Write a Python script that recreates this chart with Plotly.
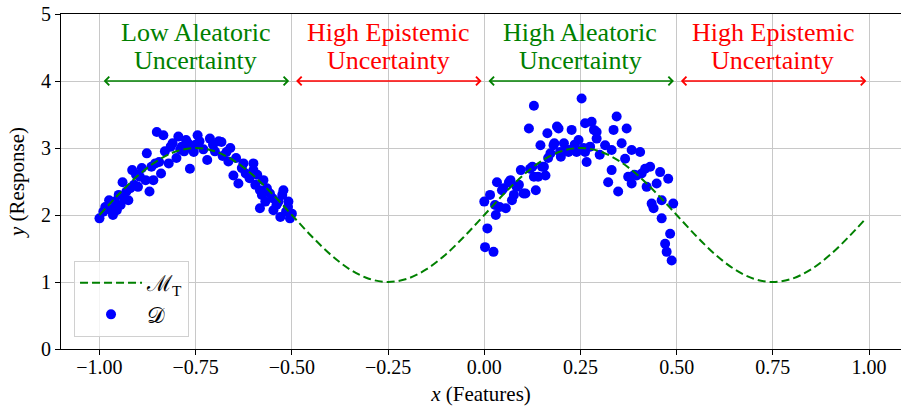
import plotly.graph_objects as go

# ---- data ----
curve_x = [-1.00, -0.95, -0.90, -0.85, -0.80, -0.75, -0.70, -0.65, -0.60, -0.55,
           -0.50, -0.45, -0.40, -0.35, -0.30, -0.25, -0.20, -0.15, -0.10, -0.05,
           0.00, 0.05, 0.10, 0.15, 0.20, 0.25, 0.30, 0.35, 0.40, 0.45,
           0.50, 0.55, 0.60, 0.65, 0.70, 0.75, 0.80, 0.85, 0.90, 0.95, 0.99]
curve_y = [2.000, 2.309, 2.588, 2.809, 2.951, 3.000, 2.951, 2.809, 2.588, 2.309,
           2.000, 1.691, 1.412, 1.191, 1.049, 1.000, 1.049, 1.191, 1.412, 1.691,
           2.000, 2.309, 2.588, 2.809, 2.951, 3.000, 2.951, 2.809, 2.588, 2.309,
           2.000, 1.691, 1.412, 1.191, 1.049, 1.000, 1.049, 1.191, 1.412, 1.691, 1.937]

left_x = [-1.00, -0.99, -0.985, -0.975, -0.97, -0.965, -0.96, -0.955, -0.95, -0.945,
          -0.94, -0.935, -0.93, -0.925, -0.92, -0.915, -0.91, -0.905, -0.90, -0.895,
          -0.89, -0.88, -0.877, -0.87, -0.865, -0.86, -0.855, -0.851, -0.845, -0.84,
          -0.834, -0.83, -0.82, -0.815, -0.81, -0.80, -0.795, -0.79, -0.786, -0.78,
          -0.775, -0.77, -0.765, -0.76, -0.755, -0.75, -0.745, -0.74, -0.73, -0.72,
          -0.713, -0.705, -0.70, -0.69, -0.683, -0.68, -0.67, -0.665, -0.66, -0.652,
          -0.645, -0.639, -0.63, -0.626, -0.62, -0.61, -0.60, -0.60, -0.595, -0.59,
          -0.583, -0.583, -0.578, -0.574, -0.569, -0.565, -0.557, -0.55, -0.548, -0.54,
          -0.535, -0.53, -0.525, -0.522, -0.515, -0.51, -0.509, -0.505, -0.50]
left_y = [1.95, 2.05, 2.12, 2.22, 2.08, 2.00, 2.20, 2.07, 2.30, 2.15,
          2.49, 2.25, 2.35, 2.22, 2.40, 2.67, 2.45, 2.60, 2.42, 2.57,
          2.70, 2.52, 2.92, 2.35, 2.72, 2.52, 2.77, 3.24, 2.79, 2.62,
          3.19, 2.95, 2.77, 3.02, 3.07, 2.85, 3.17, 2.98, 3.02, 2.95,
          3.12, 3.07, 2.69, 3.00, 2.94, 3.05, 3.19, 3.10, 2.98, 2.82,
          3.14, 3.05, 2.95, 3.10, 3.09, 2.88, 2.94, 2.80, 3.00, 2.59,
          2.85, 2.47, 2.70, 2.77, 2.62, 2.55, 2.77, 2.67, 2.45, 2.60,
          2.37, 2.10, 2.30, 2.52, 2.20, 2.40, 2.32, 2.25, 2.07, 2.15,
          2.20, 1.97, 2.30, 2.37, 2.05, 2.12, 2.20, 1.95, 2.02]

right_x = [0.000, 0.002, 0.008, 0.015, 0.024, 0.028, 0.030, 0.033, 0.040, 0.046,
           0.050, 0.056, 0.064, 0.068, 0.072, 0.077, 0.084, 0.090, 0.095, 0.102,
           0.107, 0.116, 0.119, 0.125, 0.129, 0.129, 0.134, 0.140, 0.146, 0.150,
           0.155, 0.159, 0.164, 0.166, 0.172, 0.180, 0.182, 0.189, 0.193, 0.197,
           0.199, 0.207, 0.212, 0.219, 0.223, 0.227, 0.235, 0.240, 0.245, 0.253,
           0.258, 0.262, 0.262, 0.266, 0.275, 0.279, 0.285, 0.292, 0.292, 0.300,
           0.314, 0.322, 0.331, 0.331, 0.336, 0.344, 0.348, 0.357, 0.366, 0.370,
           0.374, 0.383, 0.383, 0.390, 0.396, 0.405, 0.409, 0.418, 0.422, 0.431,
           0.435, 0.440, 0.448, 0.457, 0.461, 0.461, 0.470, 0.474, 0.478, 0.483,
           0.487, 0.491]
right_y = [2.20, 1.52, 1.80, 2.30, 1.45, 2.15, 2.00, 2.49, 2.12, 2.37,
           2.40, 2.10, 2.49, 2.52, 2.22, 2.30, 2.42, 2.45, 2.67, 2.32,
           2.32, 3.29, 2.69, 2.72, 3.63, 2.57, 2.37, 2.57, 3.04, 2.72,
           2.72, 2.59, 3.22, 2.85, 2.92, 3.04, 3.07, 3.32, 3.29, 2.94,
           2.87, 3.07, 2.98, 2.94, 2.97, 3.27, 3.05, 2.94, 3.12, 3.74,
           3.00, 3.37, 2.94, 2.79, 3.02, 3.39, 3.27, 3.24, 3.14, 2.90,
           3.04, 2.49, 2.97, 2.67, 3.27, 3.47, 2.35, 3.07, 2.84, 3.29,
           2.57, 2.97, 2.47, 2.60, 2.59, 2.94, 2.62, 2.69, 2.42, 2.72,
           2.17, 2.10, 2.47, 2.64, 2.22, 1.95, 1.57, 1.45, 2.54, 1.72,
           1.32, 2.17]

x_ticks = [-1.0, -0.75, -0.5, -0.25, 0.0, 0.25, 0.5, 0.75, 1.0]
x_tick_labels = ["\u22121.00", "\u22120.75", "\u22120.50", "\u22120.25", "0.00",
                 "0.25", "0.50", "0.75", "1.00"]
y_ticks = [0, 1, 2, 3, 4, 5]

region_starts = [-1.0, -0.5, 0.0, 0.5]
region_ends = [-0.5, 0.0, 0.5, 1.0]
region_line1 = ["Low Aleatoric", "High Epistemic", "High Aleatoric", "High Epistemic"]
region_line2 = ["Uncertainty", "Uncertainty", "Uncertainty", "Uncertainty"]
region_colors = ["green", "red", "green", "red"]
arrow_y = 4.0
line1_y = 4.72
line2_y = 4.31

# ---- figure ----
FONT = "Liberation Serif, DejaVu Serif, serif"
fig = go.Figure()

fig.add_trace(go.Scatter(
    x=left_x + right_x, y=left_y + right_y, mode="markers",
    marker=dict(color="#0000FF", size=10, line=dict(width=0)),
    name="\U0001D49F", legendrank=2))

fig.add_trace(go.Scatter(
    x=curve_x, y=curve_y, mode="lines", line_shape="spline",
    line=dict(color="#008000", width=2, dash="8px,4px"),
    name="\u2133<sub>T</sub>", legendrank=1))

pad = 0.007
for s, e, l1, l2, c in zip(region_starts, region_ends, region_line1, region_line2,
                           region_colors):
    fig.add_annotation(x=e - pad, y=arrow_y, ax=s + pad, ay=arrow_y,
                       xref="x", yref="y", axref="x", ayref="y",
                       showarrow=True, arrowside="end+start", arrowhead=4,
                       startarrowhead=4, arrowsize=1.1, startarrowsize=1.1,
                       arrowwidth=1.5, arrowcolor=c, text="")
    fig.add_annotation(x=(s + e) / 2, y=line1_y, xref="x", yref="y",
                       text=l1, showarrow=False,
                       font=dict(family=FONT, size=26, color=c))
    fig.add_annotation(x=(s + e) / 2, y=line2_y, xref="x", yref="y",
                       text=l2, showarrow=False,
                       font=dict(family=FONT, size=26, color=c))

fig.update_layout(
    width=901, height=406, autosize=False,
    margin=dict(l=61, r=0, t=14, b=57, autoexpand=False),
    paper_bgcolor="white", plot_bgcolor="white",
    font=dict(family=FONT, size=20, color="black"),
    showlegend=True,
    legend=dict(x=0.0155, y=0.036, xanchor="left", yanchor="bottom",
                bgcolor="rgba(255,255,255,0.8)", bordercolor="#d0d0d0",
                borderwidth=1, font=dict(size=22), itemwidth=62,
                tracegroupgap=0),
)
fig.update_xaxes(range=[-1.1, 1.083], tickvals=x_ticks, ticktext=x_tick_labels,
                 automargin=False, ticklabelstandoff=-5,
                 showgrid=True, gridcolor="#c8c8c8", gridwidth=1.2,
                 showline=True, linecolor="black", linewidth=1.2, mirror=True,
                 ticks="outside", ticklen=5, tickcolor="black", zeroline=False,
                 title=dict(text="<i>x</i> (Features)", standoff=9,
                            font=dict(size=21)))
fig.update_yaxes(range=[0, 5], tickvals=y_ticks, automargin=False,
                 showgrid=True, gridcolor="#c8c8c8", gridwidth=1.2,
                 showline=True, linecolor="black", linewidth=1.2,
                 ticks="outside", ticklen=5, tickcolor="black", zeroline=False,
                 title=dict(text="<i>y</i> (Response)", standoff=10,
                            font=dict(size=21)))

fig.write_html("out.html",
               config={"displayModeBar": False},
               post_script="document.body.style.margin='0';"
                           "document.body.style.overflow='hidden';")
